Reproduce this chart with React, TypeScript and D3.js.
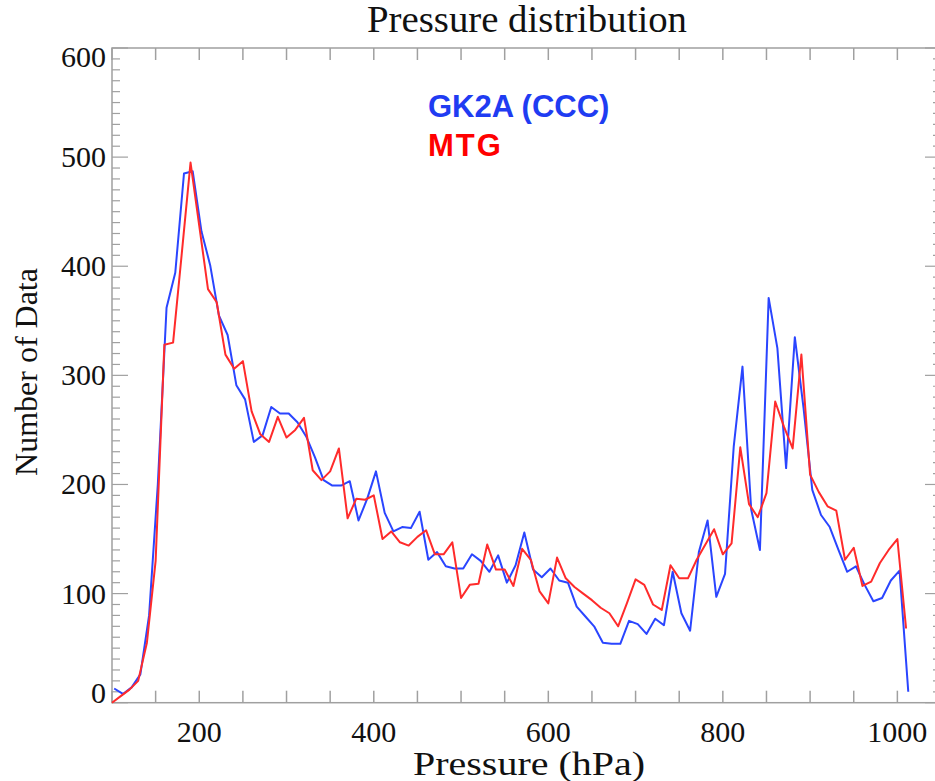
import React from "react";
import * as d3 from "d3";

// ---- data ----
const PRESSURE_MTG = [
  100, 110, 120, 130, 140, 150, 160, 170, 180, 190,
  200, 210, 220, 230, 240, 250, 260, 270, 280, 290,
  300, 310, 320, 330, 340, 350, 360, 370, 380, 390,
  400, 410, 420, 430, 440, 450, 460, 470, 480, 490,
  500, 510, 520, 530, 540, 550, 560, 570, 580, 590,
  600, 610, 620, 630, 640, 650, 660, 670, 680, 690,
  700, 710, 720, 730, 740, 750, 760, 770, 780, 790,
  800, 810, 820, 830, 840, 850, 860, 870, 880, 890,
  900, 910, 920, 930, 940, 950, 960, 970, 980, 990,
  1000, 1010,
];
const COUNT_MTG = [
  0, 6, 12, 20, 55, 130, 328, 330, 412, 495,
  437, 379, 367, 319, 306, 313, 267, 246, 239, 262,
  243, 250, 261, 213, 204, 212, 233, 169, 187, 186,
  190, 150, 157, 147, 144, 152, 158, 136, 136, 147,
  96, 108, 109, 145, 122, 122, 107, 141, 131, 102,
  91, 133, 114, 106, 100, 94, 87, 82, 70, 91,
  113, 108, 90, 85, 126, 114, 114, 131, 145, 159,
  136, 146, 234, 182, 170, 192, 276, 253, 233, 319,
  209, 193, 180, 176, 131, 142, 107, 111, 128, 140,
  150, 68,
];
const PRESSURE_GK2A = [
  102.5, 112.5, 122.5, 132.5, 142.5, 152.5, 162.5, 172.5, 182.5, 192.5,
  202.5, 212.5, 222.5, 232.5, 242.5, 252.5, 262.5, 272.5, 282.5, 292.5,
  302.5, 312.5, 322.5, 332.5, 342.5, 352.5, 362.5, 372.5, 382.5, 392.5,
  402.5, 412.5, 422.5, 432.5, 442.5, 452.5, 462.5, 472.5, 482.5, 492.5,
  502.5, 512.5, 522.5, 532.5, 542.5, 552.5, 562.5, 572.5, 582.5, 592.5,
  602.5, 612.5, 622.5, 632.5, 642.5, 652.5, 662.5, 672.5, 682.5, 692.5,
  702.5, 712.5, 722.5, 732.5, 742.5, 752.5, 762.5, 772.5, 782.5, 792.5,
  802.5, 812.5, 822.5, 832.5, 842.5, 852.5, 862.5, 872.5, 882.5, 892.5,
  902.5, 912.5, 922.5, 932.5, 942.5, 952.5, 962.5, 972.5, 982.5, 992.5,
  1002.5, 1012.5,
];
const COUNT_GK2A = [
  13, 8, 14, 26, 80, 200, 362, 394, 485, 487,
  432, 401, 355, 337, 291, 278, 239, 245, 271, 265,
  265, 257, 244, 225, 204, 199, 199, 203, 167, 187,
  212, 174, 157, 161, 160, 175, 131, 138, 125, 123,
  123, 136, 130, 120, 135, 110, 126, 156, 122, 115,
  123, 112, 110, 88, 79, 70, 55, 54, 54, 75,
  72, 63, 77, 71, 120, 82, 66, 138, 167, 97,
  118, 235, 308, 177, 140, 371, 325, 215, 335, 270,
  195, 172, 161, 140, 120, 125, 108, 93, 96, 112,
  121, 10,
];
const X_TICKS = [200, 400, 600, 800, 1000];
const X_MINOR = [100, 150, 200, 250, 300, 350, 400, 450, 500, 550, 600, 650, 700, 750, 800, 850, 900, 950, 1000, 1050];
const Y_TICKS = [0, 100, 200, 300, 400, 500, 600];
const SERIES_NAMES = ["GK2A (CCC)", "MTG"];

const W = 935;
const H = 781;
const LEFT = 112;
const RIGHT = 941;
const TOP = 48;
const BOTTOM = 702.7;
const AXIS = "#a0a0a0";
const SERIF = "'Liberation Serif', 'Times New Roman', Times, serif";
const SANS = "'Liberation Sans', Arial, Helvetica, sans-serif";

export default function App() {
  const x = d3.scaleLinear().domain([100, 1050]).range([LEFT, RIGHT]);
  const y = d3.scaleLinear().domain([0, 600]).range([BOTTOM, TOP]);
  const yMinor = d3.range(0, 601, 10);

  const line = d3
    .line<[number, number]>()
    .x((d) => x(d[0]))
    .y((d) => y(d[1]));

  const blue = PRESSURE_GK2A.map((p, i) => [p, COUNT_GK2A[i]] as [number, number]);
  const red = PRESSURE_MTG.map((p, i) => [p, COUNT_MTG[i]] as [number, number]);

  return (
    <svg
      width={W}
      height={H}
      style={{ position: "absolute", left: 0, top: 0, background: "#fff" }}
    >
      <rect x={0} y={0} width={W} height={H} fill="#fff" />
      {/* box */}
      <rect
        x={LEFT}
        y={TOP}
        width={RIGHT - LEFT}
        height={BOTTOM - TOP}
        fill="none"
        stroke={AXIS}
        strokeWidth={1.5}
      />
      {/* x ticks bottom & top */}
      {X_MINOR.map((t) => (
        <g key={"xt" + t}>
          <line x1={x(t)} x2={x(t)} y1={BOTTOM} y2={BOTTOM - 12} stroke={AXIS} strokeWidth={1.5} />
          <line x1={x(t)} x2={x(t)} y1={TOP} y2={TOP + 12} stroke={AXIS} strokeWidth={1.5} />
        </g>
      ))}
      {/* y ticks left & right */}
      {yMinor.map((t) => {
        const major = t % 100 === 0;
        const len = major ? 16 : 8;
        return (
          <g key={"yt" + t}>
            <line x1={LEFT} x2={LEFT + len} y1={y(t)} y2={y(t)} stroke={AXIS} strokeWidth={1.2} />
            <line x1={RIGHT} x2={RIGHT - len} y1={y(t)} y2={y(t)} stroke={AXIS} strokeWidth={1.2} />
          </g>
        );
      })}
      {/* data lines */}
      <path d={line(blue) || ""} fill="none" stroke="#2a45ff" strokeWidth={2} strokeLinejoin="round" />
      <path d={line(red) || ""} fill="none" stroke="#ff2b2b" strokeWidth={2} strokeLinejoin="round" />

      {/* tick labels */}
      {X_TICKS.map((t) => (
        <text key={"xl" + t} x={x(t)} y={742} textAnchor="middle" fontFamily={SERIF} fontSize={30} fill="#111">
          {t}
        </text>
      ))}
      {Y_TICKS.map((t) => {
        let cy = y(t);
        if (t === 0) cy = 693;
        if (t === 600) cy = 57;
        return (
          <text key={"yl" + t} x={106} y={cy + 10} textAnchor="end" fontFamily={SERIF} fontSize={30} fill="#111">
            {t}
          </text>
        );
      })}

      {/* titles */}
      <text
        x={527}
        y={32}
        textAnchor="middle"
        fontFamily={SERIF}
        fontSize={37}
        fill="#111"
        textLength={320}
        lengthAdjust="spacingAndGlyphs"
      >
        Pressure distribution
      </text>
      <text
        x={529}
        y={775}
        textAnchor="middle"
        fontFamily={SERIF}
        fontSize={34}
        fill="#111"
        textLength={232}
        lengthAdjust="spacingAndGlyphs"
      >
        Pressure (hPa)
      </text>
      <text
        transform={`translate(37,372) rotate(-90)`}
        textAnchor="middle"
        fontFamily={SERIF}
        fontSize={32}
        fill="#111"
      >
        Number of Data
      </text>

      {/* legend */}
      <text x={428} y={117} fontFamily={SANS} fontWeight="bold" fontSize={31} fill="#1f3cf2">
        {SERIES_NAMES[0]}
      </text>
      <text x={428} y={156} fontFamily={SANS} fontWeight="bold" fontSize={31} fill="#ff0000" letterSpacing={2}>
        {SERIES_NAMES[1]}
      </text>
    </svg>
  );
}
